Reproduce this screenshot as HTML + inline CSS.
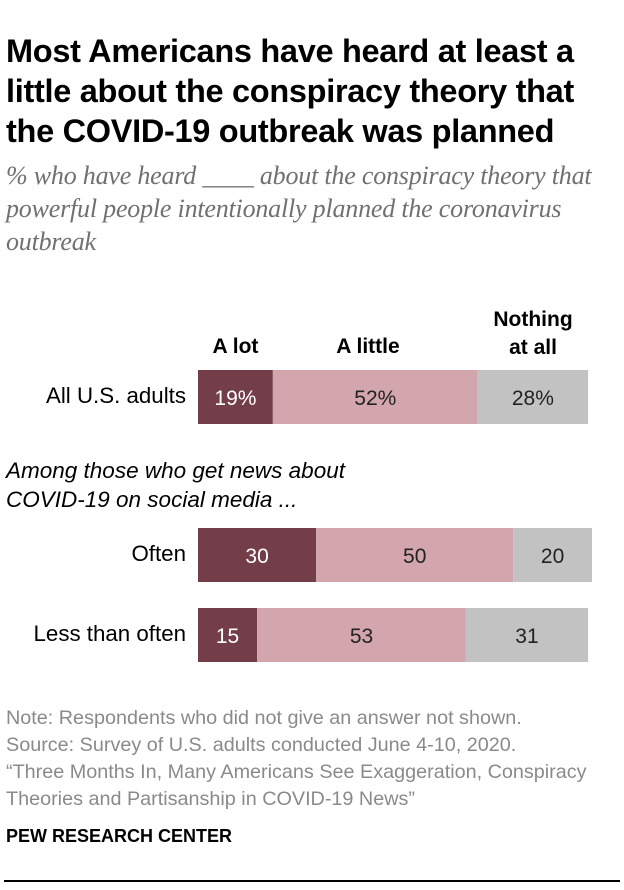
<!DOCTYPE html>
<html><head><meta charset="utf-8"><style>
body{margin:0;width:624px;height:890px;background:#fff;position:relative;overflow:hidden;font-family:"Liberation Sans",sans-serif}
.a{position:absolute;white-space:nowrap}
.t{font-weight:bold;font-size:32.5px;line-height:40px;left:6px;color:#000;letter-spacing:-0.3px}
.s{font-family:"Liberation Serif",serif;font-style:italic;color:#707070;font-size:26px;line-height:33px;left:6px;letter-spacing:-0.2px}
.f{color:#8a8a8a;font-size:19.8px;line-height:27px;left:6px}
.h{font-weight:bold;font-size:21px;text-align:center;line-height:28px}
.rl{font-size:22.3px;text-align:right;right:438px}
</style></head><body>
<div class="a t" style="top:31px">Most Americans have heard at least a<br>little about the conspiracy theory that<br>the COVID-19 outbreak was planned</div>
<div class="a s" style="top:159px">% who have heard ____ about the conspiracy theory that<br>powerful people intentionally planned the coronavirus<br>outbreak</div>
<div class="a h" style="left:198px;width:75px;top:333px">A lot</div>
<div class="a h" style="left:273px;width:190px;top:333px">A little</div>
<div class="a h" style="left:478px;width:110px;top:306px">Nothing<br>at all</div>
<div class="a" style="left:6px;top:456px;font-size:22.5px;font-style:italic;line-height:29px">Among those who get news about<br>COVID-19 on social media ...</div>
<svg class="a" style="left:0;top:0" width="624" height="890" id="chart"></svg>
<div class="a f" style="top:705px">Note: Respondents who did not give an answer not shown.<br>Source: Survey of U.S. adults conducted June 4-10, 2020.<br>“Three Months In, Many Americans See Exaggeration, Conspiracy<br>Theories and Partisanship in COVID-19 News”</div>
<div class="a" style="left:6px;top:826px;font-weight:bold;font-size:18px">PEW RESEARCH CENTER</div>
<div class="a" style="left:4px;width:616px;top:880px;height:2px;background:#000"></div>
<script>
const categories=["All U.S. adults","Often","Less than often"];
const aLot=[19,30,15];
const aLittle=[52,50,53];
const nothing=[28,20,31];
const labelPct=[true,false,false];
const rowY=[370,528,608];
const barH=54, x0=198, scale=3.94;
const colors=["#733d49","#d3a6ae","#c2c2c2"];
const txtColors=["#fff","#222","#222"];
const svg=document.getElementById('chart');
const NS="http://www.w3.org/2000/svg";
const xs=v=>v*scale;
categories.forEach((c,i)=>{
  const y=rowY[i];
  const lab=document.createElement('div');
  lab.className='a rl';
  lab.style.top=(y+barH/2-14)+'px';
  lab.textContent=c;
  
  
  document.body.appendChild(lab);
  let x=x0;
  [aLot[i],aLittle[i],nothing[i]].forEach((v,k)=>{
    const r=document.createElementNS(NS,'rect');
    r.setAttribute('x',x);r.setAttribute('y',y);
    r.setAttribute('width',xs(v));r.setAttribute('height',barH);
    r.setAttribute('fill',colors[k]);
    
    
    svg.appendChild(r);
    const t=document.createElementNS(NS,'text');
    t.setAttribute('x',x+xs(v)/2);t.setAttribute('y',y+barH/2+8);
    t.setAttribute('text-anchor','middle');t.setAttribute('font-size','21');
    t.setAttribute('font-family','Liberation Sans, sans-serif');
    t.setAttribute('fill',txtColors[k]);
    t.textContent=v+(labelPct[i]?'%':'');
    
    
    svg.appendChild(t);
    x+=xs(v);
  });
});
</script>
</body></html>
